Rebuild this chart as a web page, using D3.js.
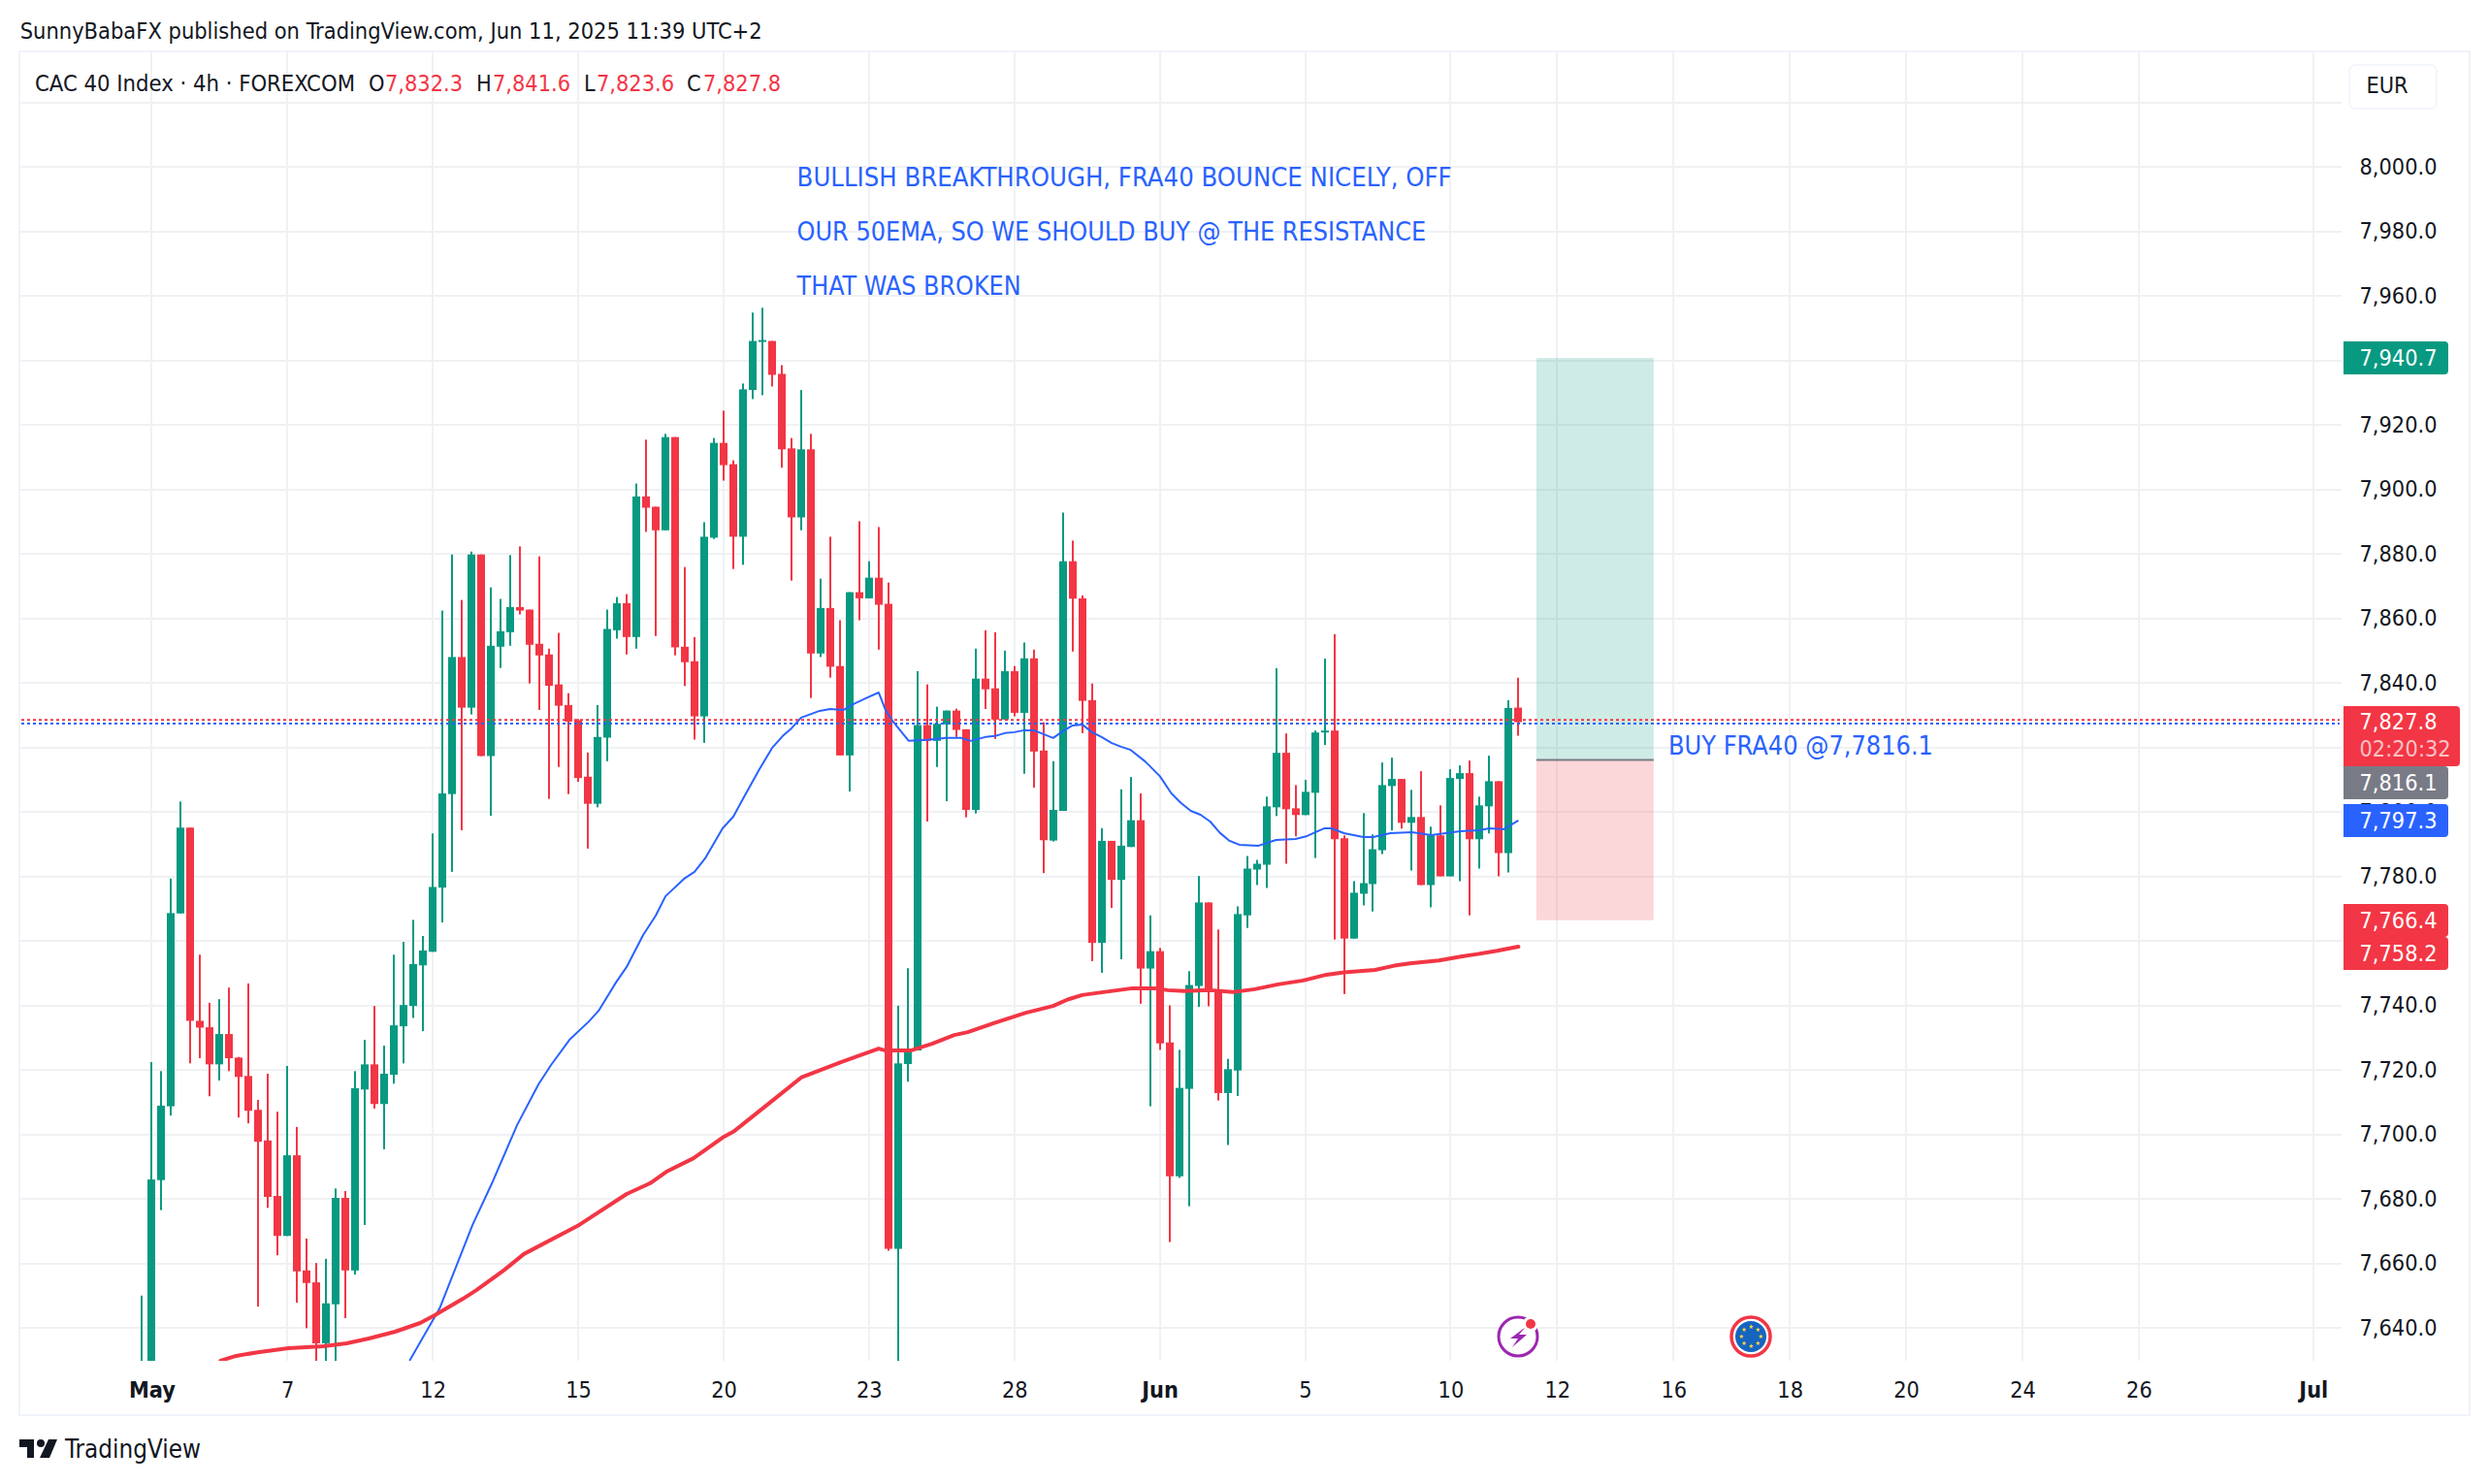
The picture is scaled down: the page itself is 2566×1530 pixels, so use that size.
<!DOCTYPE html>
<html><head><meta charset="utf-8">
<script src="https://cdn.jsdelivr.net/npm/d3@7/dist/d3.min.js"></script>
<style>
html,body{margin:0;padding:0;background:#fff;overflow:hidden}
svg{display:block}
text{font-family:"DejaVu Sans Condensed","DejaVu Sans",sans-serif;font-stretch:condensed}
</style></head><body>
<svg id="c" width="2566" height="1530"></svg>
<script>
// ---------- data ----------
const opens=[7600,7628,7685.8,7708.7,7768.5,7795.1,7735.2,7733.2,7721.7,7731.1,7723.8,7718.1,7707.6,7698.1,7680.9,7668.5,7693.5,7657.8,7654.1,7635.2,7647.3,7680.3,7657.8,7713.9,7721.7,7709.4,7718.5,7733.5,7739.8,7752.4,7756.6,7776.5,7805.5,7848,7832.3,7879.8,7817.3,7851.2,7855.7,7863.5,7862.7,7852.1,7848.8,7839.5,7833.1,7828.4,7810.9,7802.5,7823,7856.3,7864.7,7854.2,7897.8,7894.6,7887.3,7916.2,7851.2,7846.7,7829.6,7885,7914.4,7907.8,7885.3,7930.8,7946,7946,7935.8,7912.7,7891.3,7912.4,7849.1,7863.2,7845.2,7817.5,7868.1,7866.2,7872.6,7864.5,7664.5,7721.8,7726,7826.9,7822,7827.1,7831.4,7825.6,7800.6,7841.3,7838.3,7828.6,7843.6,7830.7,7847.6,7819,7791.1,7800.3,7877.7,7866.2,7834.6,7759.4,7791,7778.9,7789.1,7797.4,7751.4,7756.8,7728.5,7687,7714.1,7746,7771.9,7744.8,7712.8,7719.8,7767.9,7782.1,7783.6,7801.4,7818.3,7801.1,7799,7805.9,7824.8,7825.2,7791.8,7760.7,7774.6,7777.6,7788.1,7808,7810.2,7796.6,7798.4,7777.3,7792.7,7780,7810.2,7812,7791.5,7801.7,7809.5,7787.2,7832.3];
const highs=[7650,7722.4,7719.6,7779.3,7803.2,7795.1,7755.7,7740.8,7741.9,7745.5,7724,7746.8,7710.7,7718.8,7707,7721.2,7702.3,7667.7,7660.1,7661.4,7683.2,7682.4,7719.6,7729.3,7739.8,7727.5,7755.7,7759.7,7766.5,7761.5,7793.3,7862.4,7879.8,7865.7,7880.7,7879.8,7869.6,7866,7879.6,7882.3,7862.7,7879.2,7850.6,7855.5,7836.8,7828.8,7818.4,7833.1,7862.7,7866.6,7867.5,7901.8,7915.4,7894.6,7917.2,7916.2,7875.9,7854.2,7889.8,7915.9,7924.4,7909,7932.8,7954.8,7956.3,7946,7938.5,7915.9,7930.8,7917.2,7872.3,7885.3,7859.4,7868.1,7890.1,7877.7,7888.3,7871.1,7739.9,7751.5,7843.6,7839.5,7832.6,7831.4,7832,7825.6,7850.6,7856.3,7855.7,7850,7845.2,7852.5,7850.3,7827.8,7815.7,7892.8,7884.1,7867.1,7839.8,7794.9,7791,7807,7810.8,7805.7,7767.9,7757.8,7740,7726.2,7750.6,7780.1,7771.9,7763.5,7723.4,7770.7,7786.3,7785.1,7804.7,7844.5,7824.3,7808.3,7809.9,7825.2,7847.5,7855.1,7792.7,7778.5,7799.6,7793,7815.3,7816.8,7810.2,7806.8,7812.6,7795.4,7802,7813.2,7814.4,7815.9,7804.7,7817.4,7809.5,7834.6,7841.6];
const lows=[7590,7620,7676.5,7705.8,7768.5,7722,7723.6,7711.8,7716.7,7719.6,7705.2,7703.4,7646.6,7677.2,7662.5,7668.5,7647.8,7639.9,7625,7625,7625,7643,7656.5,7671.9,7708,7695.4,7715.7,7722,7736.1,7732,7756.6,7765.7,7781.4,7794.3,7830.2,7817.3,7798.8,7844.6,7851.5,7861.2,7839.8,7831.6,7804,7813.9,7805.5,7809.3,7788.6,7801.4,7815.7,7853.7,7848.8,7850.6,7886.8,7854.5,7887.3,7848.5,7839,7822.4,7821.4,7884.6,7902.7,7875.3,7876.6,7928,7929.2,7931.9,7906.7,7871.7,7887.3,7835.3,7848,7841.6,7817.5,7806.3,7859.4,7866.2,7850.3,7663.9,7625,7716.3,7726,7797,7813.9,7803.3,7823.2,7798.3,7799.5,7831.9,7822.6,7828.6,7829.6,7811.8,7807.5,7781,7790.8,7800.3,7849.7,7824.4,7753.7,7750.1,7770.2,7754.3,7789.1,7740.5,7708.7,7726.2,7666.6,7686.5,7677.7,7739.5,7739.7,7710.5,7696.7,7711.9,7764,7777.3,7776.4,7798.7,7783.9,7792.4,7799,7785.7,7820.7,7760.4,7743.5,7760.7,7771,7769.1,7786.9,7794.2,7794.8,7781.8,7777.3,7770.4,7780,7780,7778.5,7767.9,7782.4,7793.3,7780,7781.2,7823.6];
const closes=[7628,7686,7708.9,7768.6,7795.1,7735.2,7733.1,7721.7,7731.1,7723.6,7717.8,7707.3,7697.7,7680.6,7668.5,7693.5,7657.5,7653.9,7635.2,7647.6,7680.3,7657.8,7714.3,7721.7,7709.4,7718.8,7733.8,7740.1,7752.8,7757,7776.7,7805.7,7848,7832.3,7879.8,7817.3,7851.5,7856,7863.5,7862.4,7851.8,7848.5,7839.1,7832.9,7828,7810.5,7802.5,7823.2,7856.7,7864.7,7854.2,7897.8,7894.3,7887.3,7916.2,7851,7846.4,7829.6,7885.3,7914.4,7907.5,7885.3,7931,7946,7946.3,7935.5,7912.4,7891.3,7912.4,7849.1,7863.2,7845,7817.5,7868.1,7866.2,7872.6,7864.2,7664.5,7722,7726.4,7826.9,7822,7827.3,7831.4,7825.4,7800.6,7841.3,7838,7828.6,7843.6,7830.7,7847.6,7818.7,7791.2,7800.6,7877.7,7866.1,7834.4,7759.4,7791,7778.9,7789.5,7797.4,7751.4,7756.8,7728.2,7687,7714.4,7746.3,7771.9,7744.8,7712.8,7720.2,7768.3,7782.4,7783.9,7801.7,7818.3,7800.8,7799,7806.2,7824.6,7825.2,7791.5,7760.7,7774.9,7777.9,7788.4,7808.3,7810.2,7796.6,7798.4,7777.3,7792.7,7780,7810.5,7812,7791.5,7802,7809.5,7787.2,7832.2,7827.8];
const emaFastIdx=[27.6,30.7,34.1,36.1,38.7,40.9,42.2,44.1,46.1,47.1,48.9,50,51.7,53,54,55.9,57,58.1,59.9,61,62.2,63.7,65,66.1,67,68,69.1,69.9,71,72.4,73.4,74.9,76,76.7,77.4,79.1,81,83,84.5,85.5,87,88,89,90,91,92,93,94,95,96,97,98,99,100,101,102,103.5,105,106.2,107.2,108.2,109.2,110.2,111.2,112.2,113.2,115.2,117,119,120.2,122,122.7,124,126,127,128.8,131,133,136,138,139,140.5,142];
const emaFastVal=[7629.8,7646,7671.9,7684.8,7702.9,7715.5,7721.5,7729.3,7735,7738.3,7747.1,7751.9,7761.8,7767.8,7773.8,7779.2,7781.4,7785.6,7794.9,7798.5,7805.1,7813.2,7819.8,7823.5,7825.9,7829.2,7830.4,7831.3,7831.9,7831.6,7833.4,7835.5,7837,7831.6,7828.3,7822,7822.3,7822.9,7822.9,7822,7823.2,7823.5,7824.4,7824.7,7825.3,7825.3,7824.1,7822.9,7825,7826.8,7827.1,7824.7,7823.2,7821.4,7820.2,7819.2,7815.6,7811.1,7805.7,7802.7,7800.3,7799.1,7797,7793.5,7791,7789.8,7789.5,7791.3,7791.6,7792.5,7794.9,7794.9,7793.4,7792.2,7792.2,7793.4,7793.7,7792.8,7794,7794.3,7794.9,7794.6,7797.3];
const emaSlowIdx=[8.1,9.7,12.1,15.1,18.7,21.1,23.4,26.1,28.7,30.2,33.1,34.5,37.4,39.4,45.1,50,52.4,54.1,56.9,59.9,61.1,65.4,68,72.1,76,76.7,79.3,81.5,83.8,85.2,87.8,91.2,94,95.5,97,99.2,102.2,104.5,105.8,107.5,110.2,112.5,114.8,117.2,119.8,122.2,124,127.2,129.2,130.8,133.8,136.2,137.8,139.8,142];
const emaSlowVal=[7629.8,7631.3,7632.5,7633.7,7634.3,7635.2,7636.7,7638.8,7641.5,7643.9,7649,7651.7,7658,7662.9,7671.9,7681.5,7684.8,7688.4,7692.6,7699,7701,7711.3,7717.6,7722.4,7726.6,7726,7726,7728.1,7730.8,7731.7,7734.4,7737.7,7739.8,7741.8,7743.2,7744.1,7745.3,7745.3,7744.7,7744.4,7744.7,7744.1,7745,7746.5,7747.7,7749.5,7750.2,7751,7752.3,7753,7753.9,7755.2,7755.9,7756.9,7758.2];
const xTickIdx=[1,15,30,45,60,75,90,105,120,135,146,158,170,182,194,206,224];
const xTickLabels=["May","7","12","15","20","23","28","Jun","5","10","12","16","18","20","24","26","Jul"];
const boldLabels=["May","Jun","Jul"];
const priceTicks=[7640,7660,7680,7700,7720,7740,7780,7800,7840,7860,7880,7900,7920,7940,7960,7980,8000];
const gridPrices=d3.range(7640,8021,20);
const dottedPrices=[{p:7827.4,c:"#2962FF"},{p:7828.5,c:"#F23645"}];
const tradeLevels={target:7940.7,entry:7816.1,stop:7766.4};
const tradeSpan=[143.85,155.95];
const priceTags=[
 {v:7940.7,c:"#089981"},{v:7816.1,c:"#787B86"},{v:7797.3,c:"#2962FF"},{v:7766.4,c:"#F23645"},{v:7758.2,c:"#F23645"}];
const lastPrice=7827.8, countdown="02:20:32";
const ohlc=[["O","7,832.3"],["H","7,841.6"],["L","7,823.6"],["C","7,827.8"]];
const noteLines=["BULLISH BREAKTHROUGH, FRA40 BOUNCE NICELY, OFF","OUR 50EMA, SO WE SHOULD BUY @ THE RESISTANCE","THAT WAS BROKEN"];
const buyNote="BUY FRA40 @7,7816.1";

// ---------- scales ----------
const GREEN="#089981",RED="#F23645",BLUE="#2962FF",INK="#131722",GRID="#F0F1F3",FRAME="#F0F3FA";
const fs=23.3;
const y=d3.scaleLinear().domain([7840,7640]).range([704,1369]);
const x=d3.scaleLinear().domain([0,224]).range([146.4,2384.8]);
const svg=d3.select("#c");
const L=20,R=2414,T=53,B=1403;
const fit=(sel,w)=>sel.attr("textLength",w).attr("lengthAdjust","spacingAndGlyphs");

svg.append("defs").append("clipPath").attr("id","pane").append("rect").attr("x",L).attr("y",T).attr("width",R-L).attr("height",B-T);

// grid
const pane=svg.append("g").attr("clip-path","url(#pane)");
pane.append("g").selectAll("line").data(gridPrices).join("line")
 .attr("x1",L).attr("x2",R).attr("y1",d=>Math.round(y(d))).attr("y2",d=>Math.round(y(d)))
 .attr("stroke",GRID).attr("stroke-width",2);
pane.append("g").selectAll("line").data(xTickIdx).join("line")
 .attr("x1",d=>Math.round(x(d))).attr("x2",d=>Math.round(x(d))).attr("y1",T).attr("y2",B)
 .attr("stroke",GRID).attr("stroke-width",2);

// frame
svg.append("rect").attr("x",L).attr("y",T).attr("width",2546-L).attr("height",1459-T)
 .attr("fill","none").attr("stroke",FRAME).attr("stroke-width",2);

// position tool
const tx0=x(tradeSpan[0]),tx1=x(tradeSpan[1]);
pane.append("rect").attr("x",tx0).attr("width",tx1-tx0).attr("y",y(tradeLevels.target)).attr("height",y(tradeLevels.entry)-y(tradeLevels.target)).attr("fill",GREEN).attr("fill-opacity",0.2);
pane.append("rect").attr("x",tx0).attr("width",tx1-tx0).attr("y",y(tradeLevels.entry)).attr("height",y(tradeLevels.stop)-y(tradeLevels.entry)).attr("fill",RED).attr("fill-opacity",0.2);
pane.append("line").attr("x1",tx0).attr("x2",tx1).attr("y1",y(tradeLevels.entry)).attr("y2",y(tradeLevels.entry)).attr("stroke","#787B86").attr("stroke-width",2);

// candles
const idx=d3.range(closes.length);
const col=i=>closes[i]>=opens[i]?GREEN:RED;
const px=i=>Math.round(x(i));
pane.append("g").selectAll("rect").data(idx).join("rect")
 .attr("x",i=>px(i)-1).attr("width",2).attr("y",i=>y(highs[i])).attr("height",i=>y(lows[i])-y(highs[i])).attr("fill",col);
pane.append("g").selectAll("rect").data(idx).join("rect")
 .attr("x",i=>px(i)-4).attr("width",8)
 .attr("y",i=>y(Math.max(opens[i],closes[i])))
 .attr("height",i=>Math.max(2,Math.abs(y(opens[i])-y(closes[i])))).attr("fill",col);

// EMAs
const lineOf=(ix,vals)=>d3.line().x((d,k)=>x(ix[k])).y(d=>y(d))(vals);
pane.append("path").attr("d",lineOf(emaFastIdx,emaFastVal)).attr("fill","none").attr("stroke",BLUE).attr("stroke-width",2).attr("stroke-linejoin","round");
pane.append("path").attr("d",lineOf(emaSlowIdx,emaSlowVal)).attr("fill","none").attr("stroke",RED).attr("stroke-width",4).attr("stroke-linecap","round").attr("stroke-linejoin","round");

// dotted price lines
svg.append("g").selectAll("line").data(dottedPrices).join("line")
 .attr("x1",L+2).attr("x2",R-2).attr("y1",d=>y(d.p)).attr("y2",d=>y(d.p))
 .attr("stroke",d=>d.c).attr("stroke-width",2).attr("stroke-dasharray","3 3");

// axes
const ya=svg.append("g").attr("transform",`translate(${R},0)`)
 .call(d3.axisRight(y).tickValues(priceTicks).tickFormat(d3.format(",.1f")).tickSize(0).tickPadding(18.5));
ya.select(".domain").remove();
ya.selectAll("text").attr("font-size",fs).attr("font-family",null).attr("fill",INK);
const xa=svg.append("g").attr("transform",`translate(0,${B})`)
 .call(d3.axisBottom(x).tickValues(xTickIdx).tickFormat((d,k)=>xTickLabels[k]).tickSize(0).tickPadding(21));
xa.select(".domain").remove();
xa.selectAll("text").attr("font-size",fs).attr("font-family",null).attr("fill",INK).attr("font-weight",d=>boldLabels.includes(xTickLabels[xTickIdx.indexOf(d)])?"bold":null);

// price tags: stacked below the last-price tag and each other when they would collide
const tagW=108,tagH=34,lastTop=728,lastH=62;
let floor=-Infinity;
const tagTops=[];
priceTags.map(d=>y(d.v)).forEach(c=>{
  let t=Math.round(c)-tagH/2;
  if(c>lastTop && floor<lastTop+lastH) floor=lastTop+lastH;
  t=Math.max(t,floor);
  tagTops.push(t); floor=t+tagH;
});
const tags=svg.append("g").selectAll("g").data(priceTags).join("g");
tags.append("path").attr("fill",d=>d.c)
 .attr("d",(d,k)=>{const t=tagTops[k],l=2416,w=tagW,h=tagH,r=4;return `M${l},${t}H${l+w-r}Q${l+w},${t} ${l+w},${t+r}V${t+h-r}Q${l+w},${t+h} ${l+w-r},${t+h}H${l}Z`;});
tags.append("text").attr("x",2432.5).attr("y",(d,k)=>tagTops[k]+tagH/2).attr("dy","0.36em").attr("font-size",fs).attr("fill","#fff")
 .text(d=>d3.format(",.1f")(d.v));
// last price tag
svg.append("path").attr("fill",RED).attr("d",`M2416,${lastTop}H2532Q2536,${lastTop} 2536,${lastTop+4}V${lastTop+lastH-4}Q2536,${lastTop+lastH} 2532,${lastTop+lastH}H2416Z`);
svg.append("text").attr("x",2432.5).attr("y",743.5).attr("dy","0.36em").attr("font-size",fs).attr("fill","#fff").text(d3.format(",.1f")(lastPrice));
svg.append("text").attr("x",2432.5).attr("y",771.5).attr("dy","0.36em").attr("font-size",fs).attr("fill","#fff").attr("fill-opacity",0.7).text(countdown);

// header
fit(svg.append("text").attr("x",20.7).attr("y",32).attr("dy","0.36em").attr("font-size",fs).attr("fill",INK).text("SunnyBabaFX published on TradingView.com, Jun 11, 2025 11:39 UTC+2"),765);
fit(svg.append("text").attr("x",36).attr("y",86).attr("dy","0.36em").attr("font-size",fs).attr("fill",INK).text("CAC 40 Index · 4h · FOREXCOM"),330);
const ohlcLetterX=[380,491,602,708],ohlcValueX=[397,508,615,725];
const hdr=svg.append("g").selectAll("text").data(ohlc).join("text").attr("y",86).attr("dy","0.36em").attr("font-size",fs);
hdr.append("tspan").attr("x",(d,k)=>ohlcLetterX[k]).attr("fill",INK).text(d=>d[0]);
hdr.append("tspan").attr("x",(d,k)=>ohlcValueX[k]).attr("fill",RED).text(d=>d[1]);

// currency box
svg.append("rect").attr("x",2422).attr("y",67).attr("width",90).attr("height",45).attr("rx",6).attr("fill","#fff").attr("stroke",FRAME).attr("stroke-width",1.5);
svg.append("text").attr("x",2461).attr("y",88).attr("dy","0.36em").attr("text-anchor","middle").attr("font-size",fs).attr("fill",INK).text("EUR");

// notes
const noteY=[182,238.3,294.3],noteW=[675,648.6,231];
svg.append("g").selectAll("text").data(noteLines).join("text").attr("x",821.6).attr("y",(d,k)=>noteY[k]).attr("dy","0.36em").attr("font-size",26.5).attr("fill",BLUE).attr("textLength",(d,k)=>noteW[k]).attr("lengthAdjust","spacingAndGlyphs").text(d=>d);
fit(svg.append("text").attr("x",1720).attr("y",768).attr("dy","0.36em").attr("font-size",26.5).attr("fill",BLUE).text(buyNote),273);

// event icons
const ev=svg.append("g").attr("transform","translate(1565,1378)");
ev.append("circle").attr("r",20).attr("fill","#fff").attr("stroke","#9C27B0").attr("stroke-width",3);
ev.append("path").attr("d","M8,-10L-8,2H0L-6,11L9,-2H1Z").attr("fill","#9C27B0");
ev.append("circle").attr("cx",13).attr("cy",-13).attr("r",8).attr("fill","#fff");
ev.append("circle").attr("cx",13).attr("cy",-13).attr("r",5).attr("fill",RED);
const eu=svg.append("g").attr("transform","translate(1805,1378)");
eu.append("circle").attr("r",20).attr("fill","#fff").attr("stroke",RED).attr("stroke-width",3.5);
eu.append("circle").attr("r",16).attr("fill","#1565C0");
eu.append("g").selectAll("text").data(d3.range(8)).join("text")
 .attr("x",k=>10*Math.cos(k*Math.PI/4)).attr("y",k=>10*Math.sin(k*Math.PI/4)).attr("dy","0.36em").attr("text-anchor","middle").attr("font-size",6.5).attr("fill","#FDD835").text("★");

// logo
const logo=svg.append("g").attr("transform","translate(20,1484)").attr("fill","#131722");
logo.append("path").attr("d","M15,19H8V8H0V0H15Z");
logo.append("circle").attr("cx",22).attr("cy",4).attr("r",4);
logo.append("path").attr("d","M30,0H39L31,19H21Z");
fit(svg.append("text").attr("x",67).attr("y",1494).attr("dy","0.36em").attr("font-size",26).attr("fill","#131722").text("TradingView"),140);
</script>
</body></html>
